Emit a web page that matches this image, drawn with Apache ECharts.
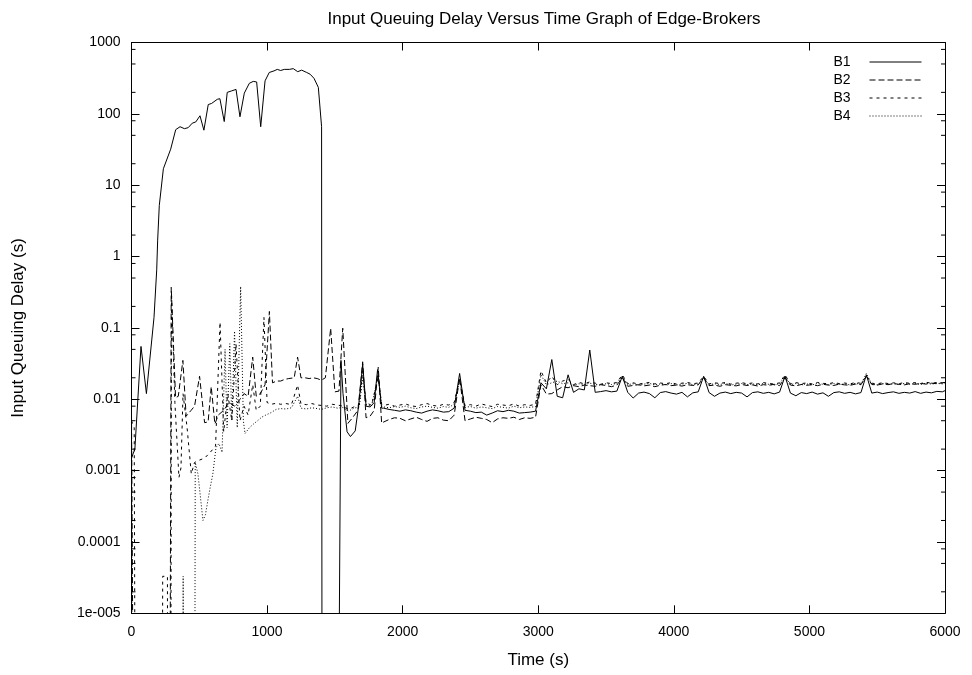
<!DOCTYPE html>
<html><head><meta charset="utf-8">
<script src="https://cdn.jsdelivr.net/npm/echarts@6/dist/echarts.min.js"></script>
<style>html,body{margin:0;padding:0;background:#fff}#c{width:972px;height:675px}</style>
</head><body><div id="c"></div>
<script>
// "zero" delay: plotted below the log axis floor, so the line drops out of the frame
const Z = 1e-9;

const seriesNames = ['B1', 'B2', 'B3', 'B4'];
const xTicks = [0, 1000, 2000, 3000, 4000, 5000, 6000];
const yTickLabels = ['1e-005', '0.0001', '0.001', '0.01', '0.1', '1', '10', '100', '1000'];
const minorMantissas = [2, 5, 8];

// ---- start-up phase (irregular sample times, seconds) ----
const b1EarlyTime = [0, 25, 70, 110, 166, 186, 193, 205, 235, 289, 326, 358, 390, 418, 448, 474, 505, 534, 566, 591, 633, 652, 684, 706, 739, 771, 800, 832, 869, 898, 923, 953, 985, 1016, 1051, 1075, 1100, 1127, 1164, 1193, 1226, 1255, 1292, 1317, 1346, 1378, 1402, 1406, 1520, 1545, 1560, 1590, 1615, 1650, 1675, 1705, 1730, 1760, 1790, 1815, 1845];
const b1EarlyDelay = [0.0015, 0.002, 0.055, 0.012, 0.14, 0.65, 1.7, 5.2, 17, 32, 60, 66, 62, 64, 74, 77, 94, 59, 135, 140, 160, 163, 78, 200, 210, 220, 91, 195, 268, 285, 280, 66, 290, 380, 400, 420, 405, 420, 420, 430, 390, 410, 380, 360, 315, 235, 66, Z, Z, 0.035, 0.012, 0.0035, 0.003, 0.0036, 0.008, 0.031, 0.008, 0.0078, 0.009, 0.026, 0.0075];

const b2EarlyTime = [0, 20, 280, 293, 325, 345, 379, 403, 440, 465, 502, 539, 565, 588, 615, 640, 680, 720, 760, 800, 830, 860, 894, 920, 950, 985, 1017, 1040, 1070, 1100, 1130, 1160, 1200, 1225, 1250, 1280, 1310, 1340, 1370, 1400, 1430, 1469, 1500, 1530, 1558, 1596, 1630, 1670, 1705, 1730, 1760, 1790, 1820, 1845];
const b2EarlyDelay = [0.006, Z, Z, 0.37, 0.0105, 0.011, 0.035, 0.0058, 0.007, 0.008, 0.021, 0.0047, 0.0048, 0.015, 0.0045, 0.006, 0.007, 0.009, 0.008, 0.010, 0.012, 0.011, 0.039, 0.011, 0.012, 0.016, 0.17, 0.017, 0.018, 0.018, 0.019, 0.0195, 0.020, 0.039, 0.020, 0.020, 0.0195, 0.020, 0.0195, 0.0185, 0.020, 0.099, 0.0127, 0.013, 0.099, 0.0046, 0.0055, 0.007, 0.0335, 0.0055, 0.0058, 0.007, 0.028, 0.0046];

const b3EarlyTime = [0, 20, 30, 225, 230, 265, 268, 288, 295, 320, 350, 365, 380, 410, 441, 465, 500, 540, 580, 620, 653, 680, 710, 740, 771, 800, 830, 860, 894, 920, 950, 977, 1000, 1030, 1070, 1100, 1140, 1180, 1225, 1250, 1290, 1330, 1370, 1400, 1440, 1480, 1520, 1560, 1600, 1640, 1680, 1705, 1730, 1770, 1820, 1845];
const b3EarlyDelay = [0.005, 0.004, Z, Z, 3.3e-5, 3.3e-5, Z, Z, 0.3, 0.009, 0.0008, 0.0011, 0.012, 0.004, 0.0009, 0.0013, 0.0014, 0.0015, 0.0018, 0.0022, 0.12, 0.0035, 0.012, 0.005, 0.06, 0.005, 0.008, 0.006, 0.016, 0.007, 0.008, 0.14, 0.009, 0.0085, 0.0088, 0.0085, 0.0087, 0.0084, 0.0158, 0.0086, 0.0084, 0.0087, 0.0083, 0.0082, 0.008, 0.0085, 0.0083, 0.008, 0.0072, 0.0078, 0.0085, 0.025, 0.009, 0.0082, 0.02, 0.0085];

const b4EarlyTime = [0, 12, 378, 381, 385, 465, 470, 490, 510, 527, 545, 565, 579, 600, 623, 645, 668, 690, 705, 725, 740, 760, 780, 805, 825, 837, 870, 900, 930, 960, 990, 1030, 1066, 1100, 1140, 1180, 1225, 1250, 1290, 1330, 1370, 1400, 1440, 1480, 1520, 1560, 1600, 1640, 1680, 1705, 1730, 1770, 1820, 1845];
const b4EarlyDelay = [0.003, Z, Z, 3.3e-5, Z, Z, 0.0013, 0.0009, 0.0004, 0.0002, 0.00024, 0.0004, 0.00056, 0.0009, 0.0021, 0.0024, 0.0018, 0.05, 0.004, 0.06, 0.005, 0.09, 0.004, 0.38, 0.005, 0.0033, 0.004, 0.0045, 0.005, 0.0056, 0.006, 0.0065, 0.0072, 0.0074, 0.0073, 0.0076, 0.011, 0.0075, 0.0073, 0.0076, 0.0074, 0.0072, 0.0076, 0.0078, 0.0075, 0.0077, 0.0068, 0.0075, 0.0078, 0.02, 0.0085, 0.008, 0.022, 0.008];

// ---- steady phase (common sample times, seconds) ----
const lateTime = [1860, 1900, 1940, 1980, 2020, 2060, 2100, 2140, 2180, 2220, 2260, 2300, 2340, 2380, 2420, 2460, 2500, 2540, 2580, 2620, 2660, 2700, 2740, 2780, 2820, 2860, 2900, 2940, 2980, 3020, 3060, 3100, 3140, 3180, 3220, 3260, 3300, 3340, 3380, 3420, 3460, 3500, 3540, 3580, 3620, 3660, 3700, 3740, 3780, 3820, 3860, 3900, 3940, 3980, 4020, 4060, 4100, 4140, 4180, 4220, 4260, 4300, 4340, 4380, 4420, 4460, 4500, 4540, 4580, 4620, 4660, 4700, 4740, 4780, 4820, 4860, 4900, 4940, 4980, 5020, 5060, 5100, 5140, 5180, 5220, 5260, 5300, 5340, 5380, 5420, 5460, 5500, 5540, 5580, 5620, 5660, 5700, 5740, 5780, 5820, 5860, 5900, 5940, 5980, 6000];

const b1LateDelay = [0.0075, 0.0072, 0.0070, 0.0068, 0.0071, 0.0069, 0.0066, 0.0064, 0.0068, 0.0071, 0.0069, 0.0066, 0.0067, 0.0075, 0.023, 0.0070, 0.0068, 0.0065, 0.0066, 0.0060, 0.0064, 0.0069, 0.0067, 0.0070, 0.0068, 0.0064, 0.0065, 0.0066, 0.0068, 0.017, 0.014, 0.036, 0.011, 0.0105, 0.022, 0.0125, 0.014, 0.0135, 0.049, 0.0125, 0.0128, 0.0132, 0.0127, 0.0130, 0.021, 0.0125, 0.0104, 0.0122, 0.0126, 0.0120, 0.0105, 0.0124, 0.0128, 0.0122, 0.0118, 0.0125, 0.0108, 0.0123, 0.0127, 0.021, 0.0124, 0.0110, 0.0122, 0.0126, 0.0120, 0.0125, 0.0122, 0.0108, 0.0124, 0.0127, 0.0121, 0.0125, 0.0119, 0.0126, 0.021, 0.0122, 0.0112, 0.0124, 0.0120, 0.0126, 0.0118, 0.0123, 0.0110, 0.0124, 0.0127, 0.0121, 0.0125, 0.0119, 0.0124, 0.022, 0.0122, 0.0126, 0.0120, 0.0124, 0.0127, 0.0121, 0.0125, 0.0122, 0.0128, 0.0121, 0.0126, 0.0123, 0.0129, 0.0127, 0.0132];

const b2LateDelay = [0.0048, 0.0052, 0.0055, 0.0054, 0.0050, 0.0053, 0.0056, 0.0052, 0.0049, 0.0054, 0.0055, 0.0051, 0.0050, 0.0060, 0.020, 0.0050, 0.0053, 0.0056, 0.0054, 0.0052, 0.0047, 0.0053, 0.0055, 0.0054, 0.0056, 0.0052, 0.0055, 0.0054, 0.0056, 0.016, 0.0118, 0.012, 0.0135, 0.015, 0.0145, 0.0155, 0.0150, 0.0158, 0.0155, 0.0152, 0.0160, 0.0156, 0.0150, 0.0158, 0.020, 0.0152, 0.0156, 0.0160, 0.0154, 0.0158, 0.0150, 0.0157, 0.0161, 0.0155, 0.0158, 0.0153, 0.0160, 0.0156, 0.0159, 0.020, 0.0155, 0.0158, 0.0152, 0.0160, 0.0157, 0.0154, 0.0161, 0.0156, 0.0159, 0.0153, 0.0160, 0.0157, 0.0162, 0.0155, 0.020, 0.0158, 0.0154, 0.0161, 0.0157, 0.0160, 0.0155, 0.0162, 0.0158, 0.0156, 0.0163, 0.0159, 0.0157, 0.0163, 0.0160, 0.021, 0.0161, 0.0158, 0.0164, 0.0160, 0.0166, 0.0162, 0.0159, 0.0165, 0.0162, 0.0167, 0.0163, 0.0168, 0.0165, 0.0170, 0.0172];

const b3LateDelay = [0.0082, 0.0085, 0.0080, 0.0083, 0.0086, 0.0081, 0.0079, 0.0084, 0.0087, 0.0082, 0.0080, 0.0085, 0.0083, 0.0090, 0.019, 0.0081, 0.0084, 0.0080, 0.0086, 0.0082, 0.0079, 0.0085, 0.0083, 0.0081, 0.0086, 0.0080, 0.0084, 0.0082, 0.0085, 0.025, 0.017, 0.021, 0.016, 0.018, 0.019, 0.016, 0.0172, 0.0165, 0.0175, 0.0168, 0.0162, 0.0170, 0.0166, 0.0172, 0.022, 0.0165, 0.0170, 0.0163, 0.0168, 0.0172, 0.0164, 0.0169, 0.0165, 0.0171, 0.0163, 0.0168, 0.0172, 0.0165, 0.0169, 0.021, 0.0164, 0.0170, 0.0166, 0.0172, 0.0163, 0.0168, 0.0171, 0.0165, 0.0169, 0.0164, 0.0171, 0.0167, 0.0163, 0.0170, 0.022, 0.0165, 0.0171, 0.0166, 0.0169, 0.0164, 0.0172, 0.0167, 0.0165, 0.0171, 0.0166, 0.0169, 0.0164, 0.0172, 0.0167, 0.021, 0.0168, 0.0164, 0.0171, 0.0166, 0.0170, 0.0165, 0.0172, 0.0167, 0.0171, 0.0166, 0.0173, 0.0168, 0.0172, 0.0169, 0.0174];

const b4LateDelay = [0.0078, 0.0076, 0.0079, 0.0077, 0.0080, 0.0076, 0.0074, 0.0078, 0.0080, 0.0077, 0.0075, 0.0079, 0.0077, 0.0085, 0.018, 0.0077, 0.0079, 0.0075, 0.0078, 0.0076, 0.0074, 0.0079, 0.0077, 0.0075, 0.0080, 0.0076, 0.0078, 0.0077, 0.0079, 0.022, 0.016, 0.017, 0.018, 0.0165, 0.017, 0.0158, 0.0165, 0.016, 0.0168, 0.0162, 0.0158, 0.0165, 0.0161, 0.0167, 0.021, 0.0160, 0.0165, 0.0158, 0.0163, 0.0167, 0.0159, 0.0164, 0.0160, 0.0166, 0.0158, 0.0163, 0.0167, 0.0160, 0.0164, 0.020, 0.0159, 0.0165, 0.0161, 0.0167, 0.0158, 0.0163, 0.0166, 0.0160, 0.0164, 0.0159, 0.0166, 0.0162, 0.0158, 0.0165, 0.021, 0.0160, 0.0166, 0.0161, 0.0164, 0.0159, 0.0167, 0.0162, 0.0160, 0.0166, 0.0161, 0.0164, 0.0159, 0.0167, 0.0162, 0.023, 0.0163, 0.0159, 0.0166, 0.0161, 0.0165, 0.0160, 0.0167, 0.0162, 0.0166, 0.0161, 0.0168, 0.0163, 0.0167, 0.0164, 0.0169];

// ---------------------------------------------------------------
const FONT = 'Liberation Sans, Arial, sans-serif';
function pairs(ts, vs) { return ts.map((t, i) => [t, vs[i]]); }
const seriesData = [
  pairs(b1EarlyTime, b1EarlyDelay).concat(pairs(lateTime, b1LateDelay)),
  pairs(b2EarlyTime, b2EarlyDelay).concat(pairs(lateTime, b2LateDelay)),
  pairs(b3EarlyTime, b3EarlyDelay).concat(pairs(lateTime, b3LateDelay)),
  pairs(b4EarlyTime, b4EarlyDelay).concat(pairs(lateTime, b4LateDelay))
];
const dashes = ['solid', [6, 3], [3, 4], [1, 2]];

const minorTicks = [];
for (let e = -5; e < 3; e++) minorMantissas.forEach(m => minorTicks.push(m * Math.pow(10, e)));

const xMin = xTicks[0], xMax = xTicks[xTicks.length - 1];
const yMin = 1e-5, yMax = 1000;

function fmtY(v) {
  const k = Math.round(Math.log10(v)) + 5;
  return yTickLabels[k] !== undefined ? yTickLabels[k] : '';
}
function fmtX(v) { return String(v); }

const axisLineStyle = { color: '#000', width: 1 };
const chart = echarts.init(document.getElementById('c'), null, { renderer: 'canvas' });
chart.setOption({
  animation: false,
  backgroundColor: '#fff',
  title: {
    text: 'Input Queuing Delay Versus Time Graph of Edge-Brokers',
    left: 539, top: 6, textAlign: 'center',
    textStyle: { fontFamily: FONT, fontSize: 17, fontWeight: 'normal', color: '#000' }
  },
  legend: {
    data: seriesNames, orient: 'vertical', right: 45, top: 50, align: 'right',
    itemWidth: 52, itemHeight: 14, itemGap: 4,
    itemStyle: { opacity: 0, borderWidth: 0 },
    lineStyle: { width: 1, color: '#000' },
    textStyle: { fontFamily: FONT, fontSize: 14, color: '#000', padding: [0, 14, 0, 0] }
  },
  grid: { left: 131.5, right: 27, top: 42.5, bottom: 61.7, containLabel: false },
  xAxis: [
    {
      type: 'value', min: xMin, max: xMax, interval: 1000, position: 'bottom',
      axisLine: { show: true, onZero: false, lineStyle: axisLineStyle },
      axisTick: { show: true, inside: true, length: 8, lineStyle: axisLineStyle },
      axisLabel: { color: '#000', fontFamily: FONT, fontSize: 14, margin: 12, formatter: fmtX },
      splitLine: { show: false },
      name: 'Time (s)', nameLocation: 'middle', nameGap: 39,
      nameTextStyle: { color: '#000', fontFamily: FONT, fontSize: 17 }
    },
    {
      type: 'value', min: xMin, max: xMax, interval: 1000, position: 'top',
      axisLine: { show: true, onZero: false, lineStyle: axisLineStyle },
      axisTick: { show: true, inside: true, length: 8, lineStyle: axisLineStyle },
      axisLabel: { show: false }, splitLine: { show: false }
    }
  ],
  yAxis: [
    {
      type: 'log', logBase: 10, min: yMin, max: yMax, splitNumber: 8, position: 'left',
      axisLine: { show: true, onZero: false, lineStyle: axisLineStyle },
      axisTick: { show: true, inside: true, length: 8, lineStyle: axisLineStyle },
      axisLabel: { color: '#000', fontFamily: FONT, fontSize: 14, margin: 11, formatter: fmtY },
      splitLine: { show: false },
      name: 'Input Queuing Delay (s)', nameLocation: 'middle', nameGap: 105,
      nameTextStyle: { color: '#000', fontFamily: FONT, fontSize: 17 }
    },
    {
      type: 'log', logBase: 10, min: yMin, max: yMax, splitNumber: 8, position: 'right',
      axisLine: { show: true, onZero: false, lineStyle: axisLineStyle },
      axisTick: { show: true, inside: true, length: 8, lineStyle: axisLineStyle },
      axisLabel: { show: false }, splitLine: { show: false }
    }
  ],
  series: seriesNames.map((n, i) => ({
    name: n, type: 'line', xAxisIndex: 0, yAxisIndex: 0,
    data: seriesData[i], symbol: 'none', showSymbol: false, clip: true,
    lineStyle: { color: '#000', width: 1, type: dashes[i] },
    itemStyle: { color: '#000' }, z: 3
  })).concat([{
    type: 'custom', name: 'minorTicks', xAxisIndex: 0, yAxisIndex: 0, silent: true,
    data: minorTicks.map(v => [xMin, v]), encode: { x: 0, y: 1 }, clip: false,
    renderItem: function (params, api) {
      const v = api.value(1);
      const pl = api.coord([xMin, v]);
      const pr = api.coord([xMax, v]);
      return {
        type: 'group', children: [
          { type: 'line', shape: { x1: pl[0], y1: pl[1], x2: pl[0] + 4, y2: pl[1] }, style: { stroke: '#000', lineWidth: 1 } },
          { type: 'line', shape: { x1: pr[0], y1: pr[1], x2: pr[0] - 4, y2: pr[1] }, style: { stroke: '#000', lineWidth: 1 } }
        ]
      };
    }
  }])
});
</script>
</body></html>
